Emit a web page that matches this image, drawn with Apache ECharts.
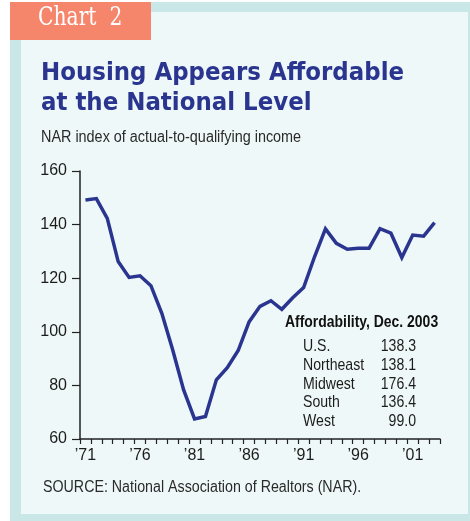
<!DOCTYPE html>
<html>
<head>
<meta charset="utf-8">
<title>Housing Appears Affordable at the National Level</title>
<script src="https://cdn.jsdelivr.net/npm/echarts@6/dist/echarts.min.js"></script>
<style>
  html, body { margin: 0; padding: 0; background: #ffffff; }
  #chart { width: 470px; height: 521px; }
</style>
</head>
<body>
<div id="chart"></div>
<script>
// NAR housing affordability index, annual, 1971-2003
const years = [
  1971, 1972, 1973, 1974, 1975, 1976, 1977, 1978, 1979, 1980,
  1981, 1982, 1983, 1984, 1985, 1986, 1987, 1988, 1989, 1990,
  1991, 1992, 1993, 1994, 1995, 1996, 1997, 1998, 1999, 2000,
  2001, 2002, 2003
];
const affordability = [
  149.2, 149.7, 142.3, 126.2, 120.3, 120.9, 117.2, 106.9, 93.2, 78.3,
  67.5, 68.4, 82.1, 86.6, 93.0, 103.7, 109.5, 111.6, 108.4, 112.7,
  116.5, 128.0, 138.4, 133.0, 130.8, 131.2, 131.2, 138.5, 136.8, 127.7,
  136.1, 135.7, 140.7
];
const yTicks = [60, 80, 100, 120, 140, 160];

// Regional readings for December 2003
const regions = ['U.S.', 'Northeast', 'Midwest', 'South', 'West'];
const regionValues = ['138.3', '138.1', '176.4', '136.4', '99.0'];

const SANS = '"Liberation Sans", Arial, Helvetica, sans-serif';
const LINE_BLUE = '#2a3590';
const INK = '#1c1c1c';

// Condensed-looking text: a regular sans squeezed horizontally
function narrowText(x, y, text, size, squeeze, opts) {
  opts = opts || {};
  return {
    type: 'text', x: x, y: y, scaleX: squeeze, scaleY: 1,
    style: {
      text: text,
      font: (opts.bold ? 'bold ' : '') + size + 'px ' + SANS,
      fill: opts.fill || INK,
      align: opts.align || 'left',
      verticalAlign: 'top'
    }
  };
}

const chart = echarts.init(document.getElementById('chart'), null, { renderer: 'canvas' });

// Regional table rows
const tableItems = [];
regions.forEach(function (name, i) {
  const y = 338 + i * 18.7;
  tableItems.push(narrowText(303, y, name, 17, 0.83));
  tableItems.push(narrowText(416, y, regionValues[i], 17, 0.83, { align: 'right' }));
});

chart.setOption({
  animation: false,
  backgroundColor: 'transparent',
  graphic: [
    // frame, panel and tab
    { type: 'rect', z: -10, shape: { x: 10, y: 2, width: 460, height: 519 }, style: { fill: '#c9e7e7' } },
    { type: 'rect', z: -9, shape: { x: 21, y: 12, width: 447, height: 502 }, style: { fill: '#eff8f8' } },
    { type: 'rect', z: -8, shape: { x: 10, y: 2, width: 141, height: 38 }, style: { fill: '#f5866c' } },
    {
      type: 'text', x: 38, y: 5, scaleX: 0.78,
      style: { text: 'Chart  2', font: '26px "DejaVu Serif", "Liberation Serif", serif', fill: '#ffffff', verticalAlign: 'top' }
    },
    {
      type: 'text', x: 41, y: 59, scaleX: 0.917,
      style: {
        text: 'Housing Appears Affordable\nat the National Level',
        font: 'bold 25px "DejaVu Sans", "Open Sans", sans-serif',
        lineHeight: 29.5, fill: LINE_BLUE, verticalAlign: 'top'
      }
    },
    narrowText(41, 130, 'NAR index of actual-to-qualifying income', 16, 0.9, { fill: '#2a2a2a' }),
    narrowText(285, 314, 'Affordability, Dec. 2003', 17, 0.82, { bold: true, fill: '#111111' }),
    narrowText(43, 480, 'SOURCE: National Association of Realtors (NAR).', 16, 0.89, { fill: '#2a2a2a' })
  ].concat(tableItems),
  grid: { left: 80, right: 30, top: 171, bottom: 82, containLabel: false },
  xAxis: {
    type: 'category',
    data: years,
    boundaryGap: true,
    axisLine: { show: true, lineStyle: { color: '#222222', width: 1.5 } },
    axisTick: { show: true, interval: 0, length: 5, inside: false, lineStyle: { color: '#222222', width: 1.2 } },
    axisLabel: {
      interval: 4,
      margin: 9,
      color: INK,
      fontSize: 16,
      fontFamily: SANS,
      formatter: function (v) { return '\u2019' + String(v).slice(2); }
    },
    splitLine: { show: false }
  },
  yAxis: {
    type: 'value',
    min: yTicks[0],
    max: yTicks[yTicks.length - 1],
    interval: yTicks[1] - yTicks[0],
    axisLine: { show: true, lineStyle: { color: '#222222', width: 1.5 } },
    axisTick: { show: true, length: 8, inside: false, lineStyle: { color: '#222222', width: 1.2 } },
    axisLabel: { margin: 13, color: INK, fontSize: 16, fontFamily: SANS },
    splitLine: { show: false }
  },
  series: [{
    type: 'line',
    data: affordability,
    showSymbol: false,
    symbol: 'none',
    lineStyle: { color: LINE_BLUE, width: 3.5, join: 'miter' },
    z: 5
  }]
});
</script>
</body>
</html>
